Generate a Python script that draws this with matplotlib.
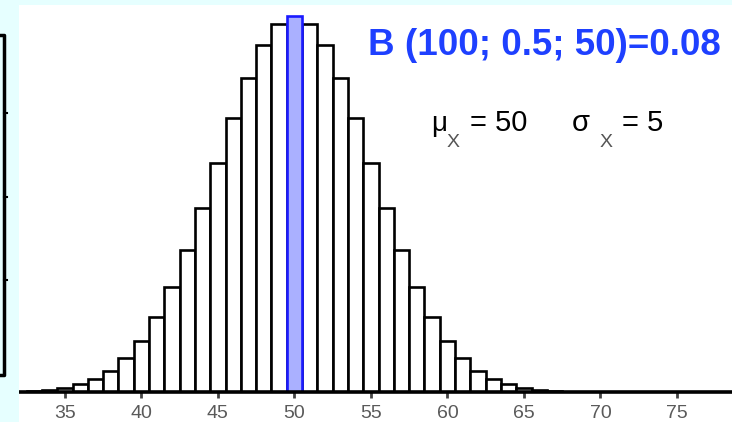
import matplotlib
matplotlib.use("Agg")
import matplotlib.pyplot as plt
from matplotlib.lines import Line2D
from matplotlib.patches import Rectangle

# Data (probabilities of k successes)
k_values = list(range(32, 79))
probs = [0.0001, 0.0002, 0.0005, 0.0009, 0.0016, 0.0027, 0.0045, 0.0071, 0.0108,
         0.0159, 0.0223, 0.0301, 0.0390, 0.0485, 0.0580, 0.0666, 0.0735, 0.0780,
         0.0796,
         0.0780, 0.0735, 0.0666, 0.0580, 0.0485, 0.0390, 0.0301, 0.0223, 0.0159,
         0.0108, 0.0071, 0.0045, 0.0027, 0.0016, 0.0009, 0.0005, 0.0002, 0.0001,
         0.0, 0.0, 0.0, 0.0, 0.0, 0.0, 0.0, 0.0, 0.0, 0.0]
highlight_k = 50
tick_positions = [35, 40, 45, 50, 55, 60, 65, 70, 75]
tick_labels = ["35", "40", "45", "50", "55", "60", "65", "70", "75"]
title_text = "B (100; 0.5; 50)=0.08"

W, H = 732, 422
fig = plt.figure(figsize=(W / 100, H / 100), dpi=100)
fig.patch.set_facecolor("#e6ffff")

def fx(px):
    return px / W

def fy(py):
    return (H - py) / H

# white drawing area
fig.patches.append(Rectangle((fx(19), 0), 1 - fx(19), fy(5), transform=fig.transFigure,
                             facecolor="white", edgecolor="none", zorder=-5))

# left cropped bracket element
lx = fx(4)
fig.lines.append(Line2D([fx(0), lx, lx, fx(0)], [fy(35), fy(35), fy(375), fy(375)],
                        transform=fig.transFigure, color="black", lw=2.5))
for yy in [113, 197, 280]:
    fig.lines.append(Line2D([lx, fx(7)], [fy(yy), fy(yy)], transform=fig.transFigure,
                            color="black", lw=1.5))

ax = fig.add_axes([fx(19), fy(392), 1 - fx(19), fy(5) - fy(392)])
ax.set_zorder(2)
ax.set_facecolor("none")
ax.set_xlim(32.0, 78.6)
ax.set_ylim(0, 0.0820)

colors = ["#aab0ff" if k == highlight_k else "white" for k in k_values]
edges = ["#1a1aff" if k == highlight_k else "black" for k in k_values]
bars = ax.bar(k_values, probs, width=1.0, color=colors, edgecolor=edges, linewidth=1.9,
              zorder=2)
for b, k in zip(bars, k_values):
    if k == highlight_k:
        b.set_zorder(3)

ax.plot([32.0, 78.6], [0, 0], color="black", lw=2.6, zorder=4, clip_on=False,
        solid_capstyle="butt")

for s in ax.spines.values():
    s.set_visible(False)
ax.set_yticks([])
ax.set_xticks(tick_positions)
ax.set_xticklabels(tick_labels, fontsize=14, color="#5a5a5a", family="Liberation Sans")
ax.tick_params(axis="x", direction="out", length=4, width=2.0, color="#444444", pad=5)

# texts
fig.text(fx(368), fy(55), title_text, color="#1e40ff", fontsize=26.5, fontweight="bold",
         family="Liberation Sans", ha="left", va="baseline", zorder=5)

def put(px, py, s, size, color="black"):
    fig.text(fx(px), fy(py), s, fontsize=size, color=color, family="Liberation Sans",
             ha="left", va="baseline", zorder=5)

put(431, 131, "μ", 20)
put(447, 147, "X", 14, "#555555")
put(470, 131, "= 50", 21)
put(572, 131, "σ", 21)
put(600, 147, "X", 14, "#555555")
put(622, 131, "= 5", 21)

fig.savefig("out.png", dpi=100, facecolor=fig.get_facecolor())
